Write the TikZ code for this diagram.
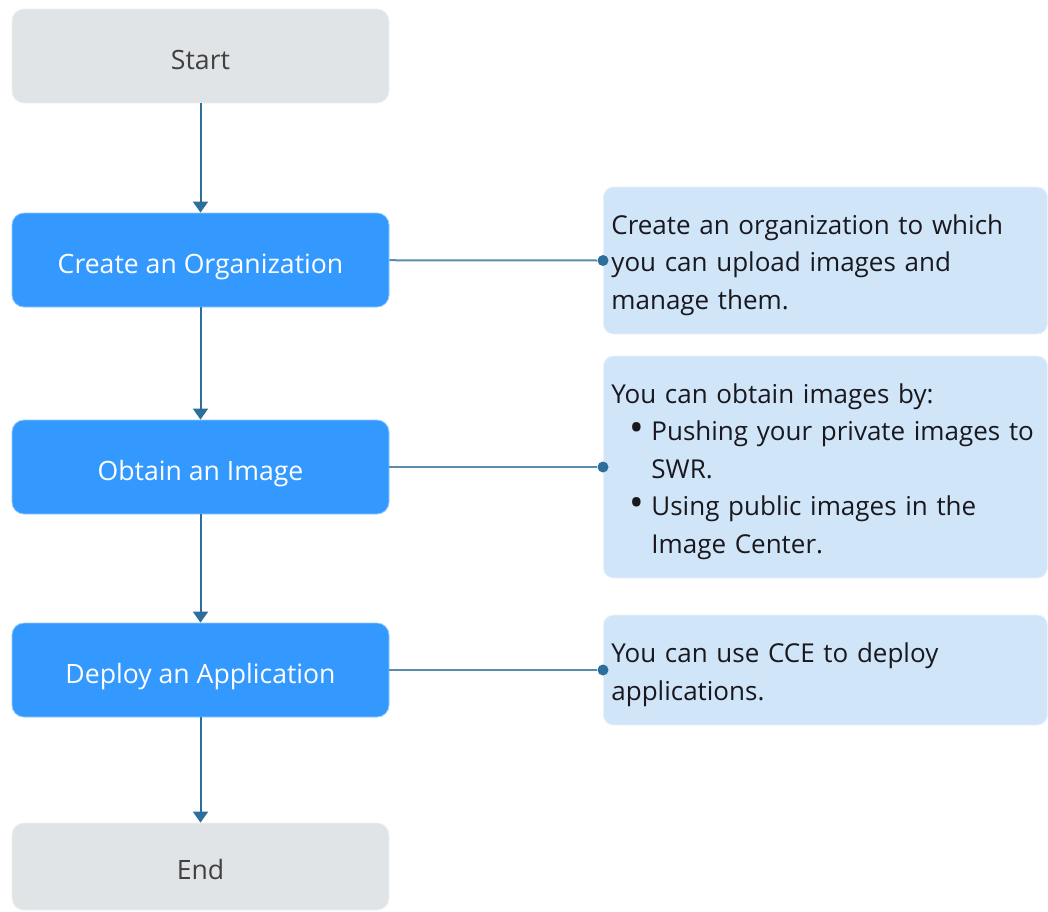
\documentclass[tikz,border=0pt]{standalone}
\usepackage{fontspec}
\setmainfont{Open Sans}
\usepackage{graphicx}
\usepackage{xcolor}
\definecolor{stepblue}{RGB}{51,153,255}
\definecolor{endgray}{RGB}{225,228,230}
\definecolor{notefill}{RGB}{209,229,248}
\definecolor{linkblue}{RGB}{46,110,154}
\definecolor{textgray}{RGB}{64,64,64}
\definecolor{notetext}{RGB}{24,24,30}
\usepackage{tikz}
\usetikzlibrary{arrows.meta}
\newcommand{\widthstep}{188.5pt}
\newcommand{\heightstep}{47pt}
\newcommand{\widthnote}{214pt}
\tikzset{
    common/.style={draw, rectangle, rounded corners=6pt, minimum width=\widthstep, minimum height=\heightstep, text height=13pt, text depth=0pt, font=\fontsize{13.3}{16}\selectfont},
    terminal/.style={common, fill=endgray, draw=endgray!60!white, text=textgray},
    stepbox/.style={common, fill=stepblue, draw=stepblue!55!white, text=white},
    note/.style={anchor=west, draw=notefill!45!white, fill=notefill, rounded corners=5pt, text width=\widthnote, align=left, inner sep=4pt, text=notetext, font=\fontsize{13}{18.75}\selectfont},
    flow/.style={-{Triangle[width=7.5pt,length=5.5pt]}, linkblue, line width=1pt},
    link/.style={linkblue!80!white, line width=1pt},
    point/.style={circle, fill=linkblue, inner sep=0pt, minimum size=5.5pt}
}
\newcommand{\notestrut}{\rule{0pt}{14.5pt}}
\newcommand{\itembullet}{\hspace*{9pt}\makebox[11pt][l]{\raisebox{-0.3pt}{\scalebox{1.5}{\textbullet}}}}

\begin{document}
\begin{tikzpicture}[x=0.5pt, y=-0.5pt]
    \useasboundingbox (0,0) rectangle (1048,911);

    % main flow
    \node[terminal] (start) at (200.5,56) {Start};
    \node[stepbox] (create) at (200.5,260) {Create an Organization};
    \node[stepbox] (obtain) at (200.5,467) {Obtain an Image};
    \node[stepbox] (deploy) at (200.5,670) {Deploy an Application};
    \node[terminal, minimum height=43.5pt] (end) at (200.5,866.5) {End};

    % notes
    \node[note, minimum height=73.5pt] (note-create) at (603,260.5)
        {\notestrut Create an organization to which\\
         you can upload images and\\
         manage them.};
    \node[note, minimum height=111pt] (note-obtain) at (603,467)
        {\notestrut You can obtain images by:\\
         \mbox{\itembullet Pushing your private images to}\\
         \hspace*{20pt}SWR.\\
         \mbox{\itembullet Using public images in the}\\
         \hspace*{20pt}Image Center.};
    \node[note, minimum height=55pt] (note-deploy) at (603,670)
        {\notestrut You can use CCE to deploy\\
         applications.};

    \node[point] (dot-create) at (note-create.west) {};
    \node[point] (dot-obtain) at (note-obtain.west) {};
    \node[point] (dot-deploy) at (note-deploy.west) {};

    \draw[flow] (start) -- (create);
    \draw[flow] (create) -- (obtain);
    \draw[flow] (obtain) -- (deploy);
    \draw[flow] (deploy) -- (end);

    \draw[link] (create) -- (dot-create);
    \draw[link] (obtain) -- (dot-obtain);
    \draw[link] (deploy) -- (dot-deploy);
\end{tikzpicture}
\end{document}
